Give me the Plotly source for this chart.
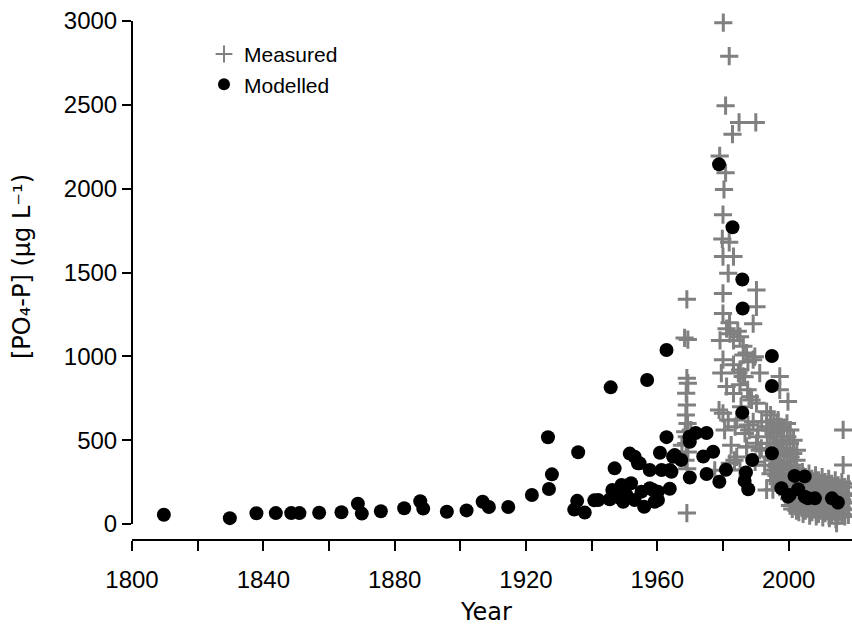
import plotly.graph_objects as go

# ---------------- data ----------------
measured_year = [
    # late 1960s column
    1969.0, 1968.3, 1969.3, 1969.0, 1969.3, 1968.8, 1969.0, 1968.7, 1969.2, 1968.5,
    1969.0, 1968.8, 1969.3, 1968.6, 1969.1, 1969.0, 1970.2, 1967.5,
    # 1977-1993 peak
    1980.1, 1981.9, 1980.8, 1984.9, 1990.0, 1982.9, 1979.0, 1980.8, 1980.3, 1980.0,
    1979.8, 1981.9, 1980.0, 1983.2, 1981.6, 1980.0, 1990.2, 1990.2, 1980.0, 1989.2,
    1981.1, 1982.1, 1979.1, 1983.2, 1986.2, 1987.2, 1989.2, 1980.0, 1983.2, 1984.7,
    1991.2, 1997.3, 1981.1, 1985.2, 1988.7, 1997.3, 1999.8, 1980.0, 1981.6, 1983.7,
    1986.7, 1989.2, 1993.3, 1984.2, 1987.2, 1991.2, 1995.2, 1996.3, 1977.5, 1978.8,
    1980.5, 1983.5, 1992.7, 1994.3, 1996.8, 1982.5, 1985.5, 1988.0, 1990.5, 1979.5,
    1982.0, 1984.5, 1986.0, 1987.5, 1991.8, 1993.5, 1989.8, 1985.2, 1986.2, 1987.6,
    1989.7, 1985.2, 1986.6, 1983.2, 1988.2, 1990.2, 1984.2, 1987.6, 1990.7, 1993.3,
    1987.2, 1990.2, 1991.7, 1982.1, 1985.2, 1993.3,
    # 1994-2003 dense block
    1994.5, 1994.6, 1994.4, 1994.7, 1994.5,
    1995.5, 1995.4, 1995.6, 1995.5, 1995.3, 1995.7,
    1996.5, 1996.4, 1996.6, 1996.5, 1996.3, 1996.7,
    1997.5, 1997.6, 1997.4, 1997.5, 1997.7, 1997.3,
    1998.5, 1998.4, 1998.6, 1998.5, 1998.3, 1998.7,
    1999.5, 1999.6, 1999.4, 1999.5, 1999.7, 1999.3, 1999.5,
    2000.5, 2000.4, 2000.6, 2000.5, 2000.3, 2000.7,
    2001.5, 2001.4, 2001.6, 2001.5, 2001.3,
    2002.5, 2002.4, 2002.6, 2002.5, 2002.3,
    # 2000-2018 low mass
    2000.2, 2000.1, 2000.3, 2000.2, 2000.4,
    2001.1, 2001.2, 2001.0, 2001.3, 2001.1,
    2002.2, 2002.0, 2002.3, 2002.1, 2002.2, 2002.4,
    2003.1, 2003.3, 2003.0, 2003.2, 2003.1,
    2004.2, 2004.0, 2004.3, 2004.1, 2004.2, 2004.4,
    2005.1, 2005.3, 2005.0, 2005.2, 2005.1,
    2006.2, 2006.0, 2006.3, 2006.1, 2006.2, 2006.4,
    2007.1, 2007.3, 2007.0, 2007.2, 2007.1,
    2008.2, 2008.0, 2008.3, 2008.1, 2008.2, 2008.4,
    2009.1, 2009.3, 2009.0, 2009.2, 2009.1,
    2010.2, 2010.0, 2010.3, 2010.1, 2010.2, 2010.4,
    2011.1, 2011.3, 2011.0, 2011.2, 2011.1,
    2012.2, 2012.0, 2012.3, 2012.1, 2012.2, 2012.4,
    2013.1, 2013.3, 2013.0, 2013.2, 2013.1,
    2014.2, 2014.0, 2014.3, 2014.1, 2014.2, 2014.4,
    2015.1, 2015.3, 2015.0, 2015.2, 2015.1, 2014.6,
    2016.2, 2016.0, 2016.3, 2016.1, 2016.2,
    2017.1, 2017.3, 2017.0, 2017.2, 2017.1,
    2018.2, 2018.0, 2018.3, 2018.1, 2018.2,
    # isolated
    2016.6, 2016.6,
]
measured_value = [
    1340, 1110, 1100, 870, 840, 780, 710, 650, 600, 550,
    520, 480, 430, 380, 330, 65, 560, 470,
    2990, 2790, 2495, 2395, 2395, 2325, 2195, 2095, 1995, 1845,
    1700, 1680, 1595, 1595, 1495, 1375, 1395, 1295, 1255, 1195,
    1165, 1135, 1095, 1095, 1060, 1020, 980, 980, 950, 900,
    900, 880, 820, 830, 740, 800, 730, 660, 620, 580,
    540, 610, 670, 400, 460, 440, 205, 340, 320, 680,
    560, 380, 350, 560, 620, 470, 700, 560, 520, 900,
    1200, 1150, 880, 800, 610, 480, 370, 1117, 1008, 968,
    998, 918, 878, 779, 759, 720, 620, 590, 561, 580,
    461, 481, 451, 362, 322, 203,
    650, 560, 480, 400, 300,
    620, 540, 460, 380, 320, 260,
    600, 520, 440, 360, 290, 240,
    580, 500, 420, 340, 270, 220,
    560, 480, 410, 330, 260, 200,
    600, 520, 450, 370, 300, 230, 180,
    560, 480, 400, 330, 270, 210,
    500, 420, 350, 290, 230,
    440, 380, 310, 250, 190,
    320, 260, 200, 150, 110,
    300, 240, 180, 130, 90,
    330, 270, 210, 160, 120, 80,
    290, 230, 170, 120, 70,
    310, 250, 190, 140, 100, 60,
    280, 220, 170, 120, 80,
    300, 240, 180, 130, 90, 50,
    270, 210, 160, 110, 70,
    290, 230, 180, 130, 85, 45,
    260, 200, 150, 100, 60,
    280, 220, 170, 120, 80, 40,
    250, 200, 150, 105, 65,
    270, 210, 160, 115, 75, 35,
    240, 190, 140, 95, 55,
    260, 200, 150, 110, 70, 30,
    230, 180, 135, 90, 50, 5,
    250, 190, 145, 100, 60,
    220, 170, 125, 85, 45,
    240, 180, 130, 90, 55,
    561, 352,
]

modelled_year = [
    1809.7, 1829.8, 1837.9, 1843.8, 1848.5, 1851.0, 1857.0, 1863.8, 1868.8, 1870.0,
    1875.8, 1882.9, 1887.8, 1888.7, 1895.9, 1901.9, 1906.8, 1908.7, 1914.6, 1921.8,
    1926.7, 1927.0, 1927.9, 1935.9, 1934.7, 1935.6, 1937.9, 1940.8, 1945.8, 1947.0,
    1951.6, 1954.1, 1957.7, 1956.9, 1960.8, 1962.8, 1962.8, 1964.8, 1963.8, 1965.3,
    1953.1, 1967.3, 1969.8, 1969.9, 1971.7, 1975.0, 1969.9, 1974.0, 1977.0, 1975.0,
    1978.9, 1980.9, 1978.8, 1982.9, 1985.9, 1986.0, 1994.9, 1994.9, 1985.9, 1994.9,
    1988.9, 1987.0, 1986.6, 1987.7, 1946.3, 1948.3, 1949.1, 1952.0, 1950.6, 1955.2,
    1957.7, 1960.2, 1963.8, 1956.0, 1959.2, 1953.1, 1949.6, 1945.5, 1942.0, 1958.7,
    1960.2, 1961.3, 1964.3, 2001.8, 2004.9, 1997.8, 2000.3, 1999.8, 2002.9, 2005.9,
    2008.0, 2013.2, 2015.0, 2004.9, 1954.6,
]
modelled_value = [
    55, 35, 64, 65, 65, 65, 67, 70, 121, 62,
    76, 94, 136, 92, 73, 81, 133, 101, 101, 173,
    517, 209, 296, 428, 86, 138, 68, 141, 815, 332,
    420, 362, 322, 859, 425, 518, 1038, 401, 322, 411,
    401, 382, 521, 491, 543, 543, 277, 403, 431, 298,
    252, 324, 2145, 1770, 1458, 1285, 1002, 823, 664, 422,
    382, 307, 257, 207, 203, 158, 233, 243, 173, 193,
    213, 193, 210, 103, 133, 143, 133, 147, 143, 203,
    143, 322, 312, 287, 284, 213, 173, 163, 208, 153,
    153, 153, 128, 163, 362,
]

x_tick_vals = [1800, 1820, 1840, 1860, 1880, 1900, 1920, 1940, 1960, 1980, 2000, 2020]
x_tick_text = ["1800", "", "1840", "", "1880", "", "1920", "", "1960", "", "2000", ""]
y_tick_vals = [0, 500, 1000, 1500, 2000, 2500, 3000]

# ---------------- figure ----------------
fig = go.Figure()
fig.add_trace(go.Scatter(
    x=measured_year, y=measured_value, mode="markers", name="Measured",
    marker=dict(symbol="cross-thin", size=13, color="#808080",
                line=dict(color="#808080", width=3)),
    cliponaxis=False,
))
fig.add_trace(go.Scatter(
    x=modelled_year, y=modelled_value, mode="markers", name="Modelled",
    marker=dict(symbol="circle", size=14, color="black", line=dict(width=0)),
    cliponaxis=False,
))

tick_font = dict(family="Liberation Sans, Arial, sans-serif", size=24, color="black")
title_font = dict(family="DejaVu Sans, Verdana, sans-serif", size=24, color="black")

fig.update_layout(
    width=852, height=631,
    margin=dict(l=132, r=0, t=10, b=91),
    paper_bgcolor="white", plot_bgcolor="white",
    showlegend=True,
    legend=dict(x=0.1, y=0.955, xanchor="left", yanchor="top",
                font=dict(family="Liberation Sans, Arial, sans-serif", size=21, color="black"),
                bgcolor="rgba(0,0,0,0)", borderwidth=0, itemsizing="constant"),
    xaxis=dict(range=[1800, 2019.3], showgrid=False, zeroline=False, showline=False,
               tickmode="array", tickvals=x_tick_vals, ticktext=x_tick_text,
               ticks="outside", ticklen=10, tickwidth=2, tickcolor="black",
               ticklabelstandoff=8, tickfont=tick_font),
    yaxis=dict(range=[-95.4, 3065.6], showgrid=False, zeroline=False, showline=False,
               tickmode="array", tickvals=y_tick_vals,
               ticks="outside", ticklen=9, tickwidth=2, tickcolor="black",
               tickfont=tick_font),
    shapes=[
        dict(type="line", xref="paper", yref="y", x0=0, x1=0, y0=0, y1=3000,
             line=dict(color="black", width=2)),
        dict(type="line", xref="x", yref="paper", x0=1800, x1=2020, y0=0, y1=0,
             line=dict(color="black", width=2)),
    ],
    annotations=[
        dict(text="Year", xref="paper", yref="paper", x=(486 - 132) / 720,
             y=(540 - 612) / 530, xanchor="center", yanchor="middle",
             showarrow=False, font=title_font),
        dict(text="[PO₄-P] (µg L⁻¹)", xref="paper", yref="paper",
             x=(22 - 132) / 720, y=(540 - 266) / 530, xanchor="center", yanchor="middle",
             textangle=-90, showarrow=False, font=title_font),
    ],
)

fig.write_html(
    "out.html",
    config={"displayModeBar": False},
    post_script="document.body.style.margin='0px';document.body.style.overflow='hidden';",
)
